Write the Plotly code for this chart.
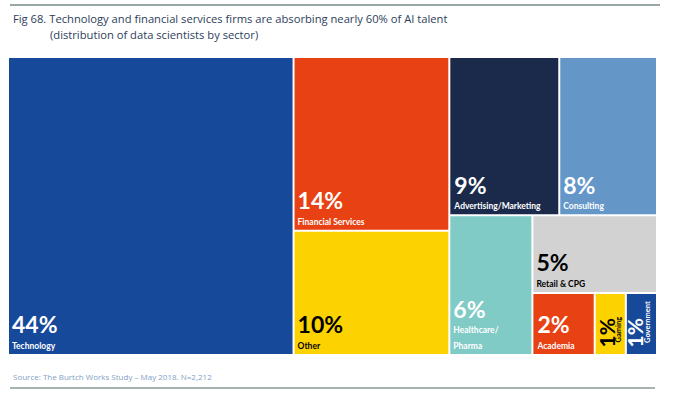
import plotly.graph_objects as go

sectors = ["Technology", "Financial Services", "Other", "Advertising/Marketing", "Consulting",
           "Healthcare/Pharma", "Retail & CPG", "Academia", "Gaming", "Government"]
display_names = ["Technology", "Financial Services", "Other", "Advertising/Marketing", "Consulting",
                 "Healthcare/<br>Pharma", "Retail & CPG", "Academia", "Gaming", "Government"]
shares = [44, 14, 10, 9, 8, 6, 5, 2, 1, 1]
rotated = [False, False, False, False, False, False, False, False, True, True]
colors = ["#17499b", "#e84113", "#fcd200", "#1b2a4b", "#6496c8",
          "#80cbc6", "#d2d2d2", "#e84113", "#fcd200", "#17499b"]
text_colors = ["white", "white", "black", "white", "white",
               "white", "black", "white", "black", "white"]

texts = []
for name, v, rot in zip(display_names, shares, rotated):
    if rot:
        texts.append("")
    else:
        texts.append(f"<span style='font-size:23px'><b>{v}%</b></span><br>"
                     f"<span style='font-size:8.5px'><b>{name}</b></span>")

# plotting area of the treemap (pixels in a 680x395 figure)
X0, X1, Y0, Y1 = 9, 656, 58, 354
W, H = 680, 395

fig = go.Figure(go.Treemap(
    labels=sectors,
    parents=[""] * len(sectors),
    values=shares,
    text=texts,
    texttemplate="%{text}",
    textposition="bottom left",
    textfont=dict(family="Lato", color=text_colors),
    marker=dict(colors=colors, line=dict(width=0), pad=dict(t=0, l=0, r=0, b=0)),
    tiling=dict(pad=2),
    pathbar=dict(visible=False),
    sort=True,
    hoverinfo="label+value",
    domain=dict(x=[X0 / W, X1 / W], y=[1 - Y1 / H, 1 - Y0 / H]),
))

# rotated labels for the two thinnest tiles (Gaming, Government)
rot_pct_x = {"Gaming": 606, "Government": 634}
rot_name_x = {"Gaming": 617.5, "Government": 647}
annotations = []
for name, v, rot, tc in zip(sectors, shares, rotated, text_colors):
    if rot:
        annotations.append(dict(
            text=f"<b>{v}%</b>",
            xref="paper", yref="paper", x=rot_pct_x[name] / W, y=1 - (Y1 - 4) / H,
            xanchor="center", yanchor="bottom", textangle=-90,
            showarrow=False, font=dict(family="Lato", size=21, color=tc)))
        annotations.append(dict(
            text=f"<b>{name}</b>",
            xref="paper", yref="paper", x=rot_name_x[name] / W, y=1 - (Y1 - 9) / H,
            xanchor="center", yanchor="bottom", textangle=-90,
            showarrow=False, font=dict(family="Lato", size=7.5, color=tc)))

annotations += [
    dict(text="Fig 68. Technology and financial services firms are absorbing nearly 60% of AI talent",
         xref="paper", yref="paper", x=11 / W, y=1 - 18 / H, xanchor="left", yanchor="middle",
         showarrow=False, font=dict(family="Open Sans", size=11.2, color="#2d3e5c")),
    dict(text="(distribution of data scientists by sector)",
         xref="paper", yref="paper", x=48 / W, y=1 - 34 / H, xanchor="left", yanchor="middle",
         showarrow=False, font=dict(family="Open Sans", size=11.2, color="#2d3e5c")),
    dict(text="Source: The Burtch Works Study – May 2018. N=2,212",
         xref="paper", yref="paper", x=11 / W, y=1 - 376 / H, xanchor="left", yanchor="middle",
         showarrow=False, font=dict(family="Open Sans", size=8, color="#7f9fc6")),
]

fig.update_layout(
    width=W, height=H,
    margin=dict(l=0, r=0, t=0, b=0),
    paper_bgcolor="white",
    uniformtext=dict(minsize=6, mode="show"),
    showlegend=False,
    shapes=[
        dict(type="line", xref="paper", yref="paper", x0=10 / W, x1=660 / W,
             y0=1 - 5 / H, y1=1 - 5 / H, line=dict(color="#9aa5a5", width=2)),
        dict(type="line", xref="paper", yref="paper", x0=10 / W, x1=655 / W,
             y0=1 - 388 / H, y1=1 - 388 / H, line=dict(color="#8a9a96", width=1.5)),
    ],
    annotations=annotations,
)

fig.write_html("out.html", post_script="document.body.style.margin='0';",
               config={"displayModeBar": False})
